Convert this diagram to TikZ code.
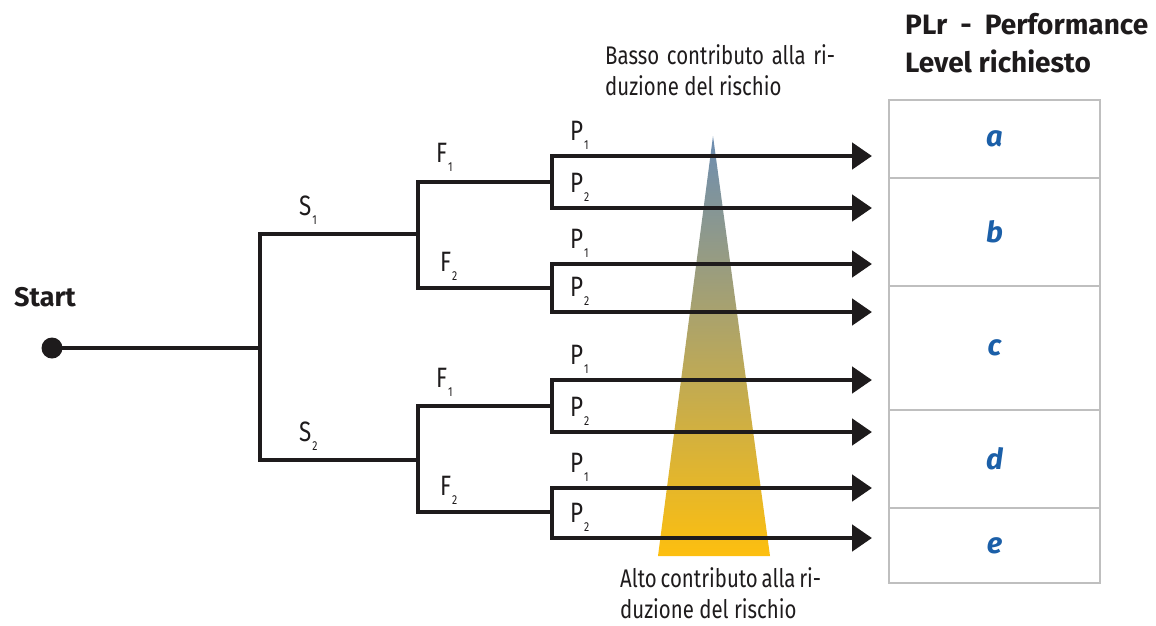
\documentclass[tikz,border=0pt]{standalone}
\usepackage{fontspec}
\setmainfont{Fira Sans}[FakeStretch=0.8]
\newfontfamily\wide{Fira Sans}
\usetikzlibrary{arrows.meta}
\definecolor{ink}{HTML}{1E1B1C}
\definecolor{tritop}{HTML}{6C8DB2}
\definecolor{tribot}{HTML}{FDBF0F}
\definecolor{cellgray}{HTML}{BFBFBF}
\definecolor{letblue}{HTML}{1B5FA8}
\newcommand\idx[2]{#1\kern1pt\raisebox{-9pt}{\fontsize{13}{13}\selectfont #2}}
\newcommand\lowr[1]{\raisebox{-4pt}{#1}}
\tikzset{
  tree/.style={draw=ink, line width=4.8pt, line join=miter},
  bothtip/.style={{Triangle[length=20pt,width=26pt]}-{Triangle[length=20pt,width=26pt]}},
  lab/.style={anchor=base west, inner sep=0pt, font=\fontsize{28}{30}\selectfont, text=ink},
  cell/.style={draw=cellgray, line width=1.5pt, minimum width=211pt, inner sep=0pt,
    font=\wide\fontsize{29}{29}\selectfont\bfseries\itshape, text=letblue},
  note/.style={anchor=north west, inner sep=0pt, align=left,
    font=\fontsize{25.5}{31}\selectfont, text=ink},
}
\begin{document}
\begin{tikzpicture}[x=1pt,y=-1pt]
\useasboundingbox (0,0) rectangle (1156,625);
% triangle
\shade[top color=tritop, bottom color=tribot] (713,136) -- (770,556) -- (658,556) -- cycle;
% coordinates
\coordinate (A) at (52,348);
\coordinate (B) at (260,348);
\coordinate (B1) at (260,234);
\coordinate (B2) at (260,460);
\coordinate (C1) at (418,234);
\coordinate (C2) at (418,460);
\coordinate (C1u) at (418,182);
\coordinate (C1d) at (418,288);
\coordinate (C2u) at (418,406);
\coordinate (C2d) at (418,512);
\coordinate (D1) at (552,182);
\coordinate (D2) at (552,288);
\coordinate (D3) at (552,406);
\coordinate (D4) at (552,512);
\foreach \n/\y in {1/156,2/208,3/264,4/312,5/380,6/432,7/488,8/538}{
  \coordinate (G\n) at (552,\y);
  \coordinate (E\n) at (872,\y);
}
% tree
\draw[tree] (A) -- (B);
\draw[tree] (C1) -- (B1) -- (B2) -- (C2);
\draw[tree] (D1) -- (C1u) -- (C1d) -- (D2);
\draw[tree] (D3) -- (C2u) -- (C2d) -- (D4);
\draw[tree,bothtip] (E1) -- (G1) -- (G2) -- (E2);
\draw[tree,bothtip] (E3) -- (G3) -- (G4) -- (E4);
\draw[tree,bothtip] (E5) -- (G5) -- (G6) -- (E6);
\draw[tree,bothtip] (E7) -- (G7) -- (G8) -- (E8);
\fill[ink] (A) circle (10.5pt);
% labels
\node[anchor=base west, inner sep=0pt, font=\wide\fontsize{27}{30}\selectfont\bfseries, text=ink] (start) at (14,306) {Start};
\node[lab] (s1) at (299,215) {\idx{S}{1}};
\node[lab] (s2) at (299,441) {\idx{S}{2}};
\node[lab] (f1a) at (436,162) {\idx{F}{1}};
\node[lab] (f2a) at (440,271) {\idx{F}{2}};
\node[lab] (f1b) at (436,387) {\idx{F}{1}};
\node[lab] (f2b) at (440,495) {\idx{F}{2}};
\node[lab] (p1) at (570,140) {\idx{P}{1}};
\node[lab] (p2) at (570,192) {\idx{P}{2}};
\node[lab] (p3) at (570,248) {\idx{P}{1}};
\node[lab] (p4) at (570,296) {\idx{P}{2}};
\node[lab] (p5) at (570,364) {\idx{P}{1}};
\node[lab] (p6) at (570,416) {\idx{P}{2}};
\node[lab] (p7) at (570,472) {\idx{P}{1}};
\node[lab] (p8) at (570,522) {\idx{P}{2}};
% notes
\node[note] (basso) at (605,44) {\makebox[230pt][s]{Basso contributo alla ri-}\\duzione del rischio};
\node[note] (alto) at (620,567) {\makebox[201pt][s]{Alto contributo alla ri-}\\duzione del rischio};
% header
\node[anchor=north west, inner sep=0pt, align=left,
  font=\wide\fontsize{28}{38}\selectfont\bfseries, text=ink] (head) at (905,13) {\makebox[243pt][s]{PLr - Performance}\\Level richiesto};
% table
\node[cell, minimum height=78pt] (ca) at (994.5,139) {\lowr{a}};
\node[cell, minimum height=108pt] (cb) at (994.5,232) {\lowr{b}};
\node[cell, minimum height=124pt] (cc) at (994.5,348) {\lowr{c}};
\node[cell, minimum height=98pt] (cd) at (994.5,459) {\lowr{d}};
\node[cell, minimum height=75pt] (ce) at (994.5,545.5) {\lowr{e}};
\end{tikzpicture}
\end{document}
